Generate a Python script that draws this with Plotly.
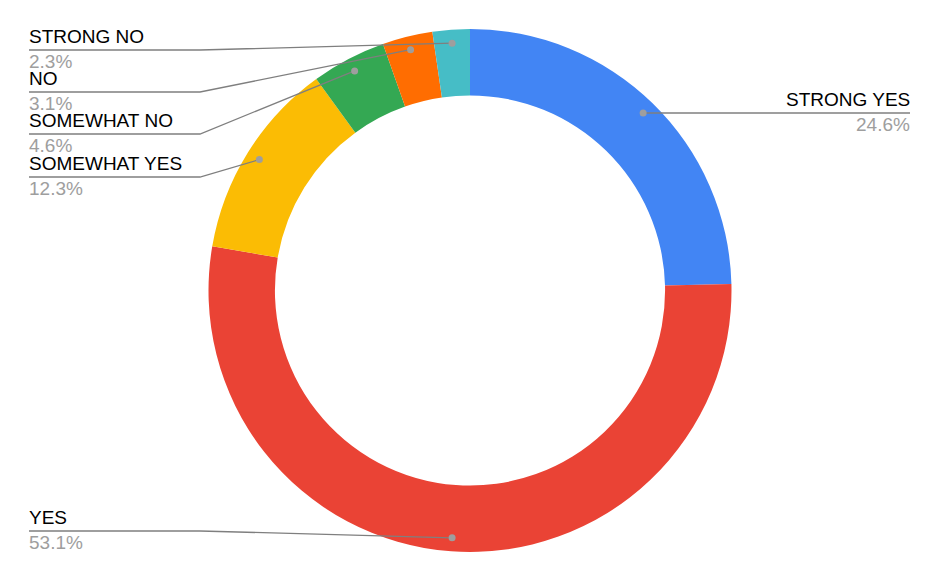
import math
import plotly.graph_objects as go

labels = ["STRONG YES", "YES", "SOMEWHAT YES", "SOMEWHAT NO", "NO", "STRONG NO"]
values = [24.6, 53.1, 12.3, 4.6, 3.1, 2.3]
colors = ["#4285F4", "#EA4335", "#FBBC04", "#34A853", "#FF6D01", "#46BDC6"]

W, H = 940, 581
CX, CY, R = 470, 290.5, 261.5
HOLE = 0.746
DOT_R = 248

# label layout: (side, line y)
label_layout = {
    "STRONG YES": ("right", 113),
    "YES": ("left", 531),
    "SOMEWHAT YES": ("left", 177),
    "SOMEWHAT NO": ("left", 134),
    "NO": ("left", 92),
    "STRONG NO": ("left", 50),
}
LEFT_X0, LEFT_BEND, RIGHT_X1 = 29, 200, 910
FONT = "Liberation Sans, Arial, sans-serif"

fig = go.Figure()
fig.add_trace(go.Pie(
    labels=labels, values=values, sort=False, direction="clockwise", rotation=0,
    hole=HOLE, marker=dict(colors=colors, line=dict(width=0)),
    textinfo="none", hoverinfo="label+percent", showlegend=False,
    domain=dict(x=[(CX - R) / W, (CX + R) / W], y=[1 - (CY + R) / H, 1 - (CY - R) / H]),
))
# invisible trace to activate cartesian axes for pixel-based shapes
fig.add_trace(go.Scatter(x=[0, W], y=[0, H], mode="markers", marker=dict(opacity=0),
                         hoverinfo="skip", showlegend=False))

total = sum(values)
cum = 0.0
annotations = []
shapes = []
for lab, v in zip(labels, values):
    mid = (cum + v / 2) / total * 2 * math.pi
    cum += v
    dx = CX + DOT_R * math.sin(mid)
    dy = CY - DOT_R * math.cos(mid)
    side, ly = label_layout[lab]
    if side == "left":
        path = f"M {LEFT_X0} {ly} L {LEFT_BEND} {ly} L {dx:.2f} {dy:.2f}"
        ax, anchor = LEFT_X0 - 1, "left"
    else:
        path = f"M {dx:.2f} {ly} L {RIGHT_X1} {ly}"
        ax, anchor = RIGHT_X1 + 1, "right"
    shapes.append(dict(type="path", path=path, xref="x", yref="y", layer="above",
                       line=dict(color="#7f7f7f", width=1.3)))
    shapes.append(dict(type="circle", xref="x", yref="y", layer="above",
                       x0=dx - 3.5, x1=dx + 3.5, y0=dy - 3.5, y1=dy + 3.5,
                       fillcolor="#9e9e9e", line=dict(width=0)))
    annotations.append(dict(x=ax, y=ly - 2, xref="x", yref="y", text=lab, showarrow=False,
                            xanchor=anchor, yanchor="bottom", borderpad=0,
                            font=dict(family=FONT, size=19, color="#000000")))
    annotations.append(dict(x=ax, y=ly, xref="x", yref="y", text=f"{v:.1f}%", showarrow=False,
                            xanchor=anchor, yanchor="top", borderpad=0,
                            font=dict(family=FONT, size=19, color="#9e9e9e")))

fig.update_layout(
    width=W, height=H, margin=dict(l=0, r=0, t=0, b=0),
    paper_bgcolor="white", plot_bgcolor="rgba(0,0,0,0)",
    xaxis=dict(range=[0, W], visible=False, fixedrange=True),
    yaxis=dict(range=[H, 0], visible=False, fixedrange=True),
    annotations=annotations, shapes=shapes,
)
fig.write_html("out.html", config={"displayModeBar": False},
               post_script="document.body.style.margin='0';")
